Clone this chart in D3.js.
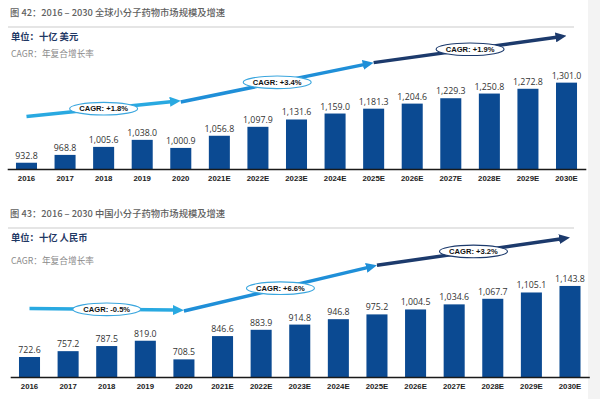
<!DOCTYPE html>
<html>
<head>
<meta charset="utf-8">
<script src="https://cdn.jsdelivr.net/npm/d3@7"></script>
<style>
	body { margin: 0; background: #fff; }
	svg { display: block; }
	.ttl { font-family: "Noto Sans CJK SC", sans-serif; }
</style>
</head>
<body>
<div id="chart"></div>
<script>
// data
let years			= ["2016", "2017", "2018", "2019", "2020", "2021E", "2022E", "2023E", "2024E", "2025E", "2026E", "2027E", "2028E", "2029E", "2030E"];
let globalValues	= [932.8, 968.8, 1005.6, 1038.0, 1000.9, 1056.8, 1097.9, 1131.6, 1159.0, 1181.3, 1204.6, 1229.3, 1250.8, 1272.8, 1301.0];
let chinaValues		= [722.6, 757.2, 787.5, 819.0, 708.5, 846.6, 883.9, 914.8, 946.8, 975.2, 1004.5, 1034.6, 1067.7, 1105.1, 1143.8];

let cagrSpans		= [["2016", "2020"], ["2020", "2025E"], ["2025E", "2030E"]];
let globalCagr		= ["CAGR: +1.8%", "CAGR: +3.4%", "CAGR: +1.9%"];
let chinaCagr		= ["CAGR: -0.5%", "CAGR: +6.6%", "CAGR: +3.2%"];
// arrow levels, in the value units of each chart
let globalCagrLevels	= [[1145, 1218], [1212, 1393], [1393, 1516]];
let chinaCagrLevels		= [[1010, 1000], [995, 1266], [1266, 1431]];

let arrowColors		= ["#29a9e1", "#1f8fd8", "#1c3a6c"];
let barColor		= "#0b4a92";

let svg = d3.select("#chart").append("svg")
	.attr("width", 600)
	.attr("height", 399);

svg.append("rect").attr("x", 588).attr("y", 0).attr("width", 12).attr("height", 399).attr("fill", "#f3f3f3");

let defs = svg.append("defs");
arrowColors.forEach((c, i) => {
	defs.append("marker")
		.attr("id", "head" + i)
		.attr("markerUnits", "userSpaceOnUse")
		.attr("markerWidth", 11).attr("markerHeight", 10)
		.attr("refX", 1).attr("refY", 5)
		.attr("orient", "auto")
		.append("path")
		.attr("d", "M0,0 L11,5 L0,10 Z")
		.attr("fill", c);
});

function drawChart(opt) {
	let g = svg.append("g");

	// header texts
	g.append("text").attr("class", "ttl")
		.attr("x", 10).attr("y", opt.titleY)
		.attr("font-size", 9.3).attr("font-weight", 500).attr("fill", "#606060")
		.text(opt.title);
	g.append("line")
		.attr("x1", 8).attr("x2", 574)
		.attr("y1", opt.titleY + 11).attr("y2", opt.titleY + 11)
		.attr("stroke", "#dcdcdc").attr("stroke-width", 1.5);
	g.append("text").attr("class", "ttl")
		.attr("x", 11).attr("y", opt.unitY)
		.attr("font-size", 9.3).attr("font-weight", 700).attr("fill", "#1f3864")
		.text(opt.unit);
	g.append("text").attr("class", "ttl")
		.attr("x", 11).attr("y", opt.cagrY)
		.attr("font-size", 8.7).attr("fill", "#8a8a8a")
		.text("CAGR：年复合增长率");

	let x = d3.scaleBand().domain(years).range(opt.xRange).paddingInner(0.455).paddingOuter(0.2275);
	let y = d3.scaleLinear().domain(opt.yDomain).range(opt.yRange);
	let cx = (k) => x(k) + x.bandwidth() / 2;
	let data = years.map((k, i) => ({ year: k, value: opt.values[i] }));

	g.selectAll(".bar")
		.data(data)
		.enter().append("rect")
			.attr("class", "bar")
			.attr("x", (o) => x(o.year))
			.attr("width", x.bandwidth())
			.attr("y", (o) => y(o.value))
			.attr("height", (o) => y.range()[0] - y(o.value))
			.attr("fill", barColor);

	g.selectAll(".val")
		.data(data)
		.enter().append("text")
			.attr("class", "val")
			.attr("x", (o) => cx(o.year))
			.attr("y", (o) => y(o.value) - 4)
			.attr("text-anchor", "middle")
			.attr("font-family", "'Open Sans', sans-serif")
			.attr("font-size", 8.8)
			.attr("fill", "#333")
			.text((o) => d3.format(",.1f")(o.value));

	let axis = g.append("g")
		.attr("transform", "translate(0," + y.range()[0] + ")")
		.call(d3.axisBottom(x).tickSize(0).tickSizeOuter(0).tickPadding(6));
	axis.select(".domain").attr("stroke", "#1a1a1a").attr("stroke-width", 1.5);
	axis.selectAll("text")
		.attr("font-family", "'Liberation Sans', Arial, sans-serif")
		.attr("font-size", 7.8)
		.attr("font-weight", 700)
		.attr("fill", "#222");

	// CAGR arrows
	cagrSpans.forEach((s, i) => {
		let x1 = cx(s[0]), x2 = cx(s[1]);
		let y1 = y(opt.levels[i][0]), y2 = y(opt.levels[i][1]);
		let len = Math.hypot(x2 - x1, y2 - y1);
		let ex = x2 - (x2 - x1) / len * 10, ey = y2 - (y2 - y1) / len * 10;
		g.append("line")
			.attr("x1", x1).attr("y1", y1)
			.attr("x2", ex).attr("y2", ey)
			.attr("stroke", arrowColors[i])
			.attr("stroke-width", 3.5)
			.attr("marker-end", "url(#head" + i + ")");

		let mx = (x1 + x2) / 2, my = (y1 + y2) / 2;
		g.append("ellipse")
			.attr("cx", mx).attr("cy", my)
			.attr("rx", 34).attr("ry", 6.3)
			.attr("fill", "#fff")
			.attr("stroke", i == 2 ? "#1c3a6c" : "#3aa6de")
			.attr("stroke-width", 1.1);
		g.append("text")
			.attr("x", mx).attr("y", my + 2.7)
			.attr("text-anchor", "middle")
			.attr("font-family", "'Liberation Sans', Arial, sans-serif")
			.attr("font-size", 7.6)
			.attr("font-weight", 700)
			.attr("fill", "#111")
			.text(opt.cagr[i]);
	});
}

drawChart({
	title: "图 42：2016 – 2030 全球小分子药物市场规模及增速",
	unit: "单位：十亿 美元",
	titleY: 16, unitY: 40, cagrY: 57,
	values: globalValues, levels: globalCagrLevels, cagr: globalCagr,
	xRange: [7.2, 585.8],
	yDomain: [904, 1520], yRange: [169, 35]
});

drawChart({
	title: "图 43：2016 – 2030 中国小分子药物市场规模及增速",
	unit: "单位：十亿 人民币",
	titleY: 217, unitY: 241, cagrY: 264,
	values: chinaValues, levels: chinaCagrLevels, cagr: chinaCagr,
	xRange: [10.2, 589.3],
	yDomain: [604, 1440], yRange: [377, 236]
});
</script>
</body>
</html>
